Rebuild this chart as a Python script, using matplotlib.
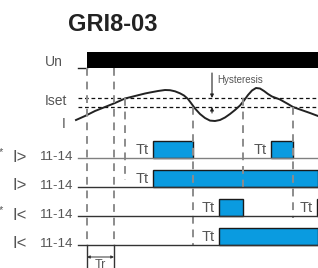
import matplotlib.pyplot as plt
from matplotlib.patches import Rectangle

plt.rcParams['font.family'] = ['Liberation Sans', 'DejaVu Sans']

t_end = 318
un_on = 87
tr_end = 114
iset_hi = 98
iset_lo = 107

curve_t = [76, 85, 95, 105, 115, 125, 135, 145, 150, 158, 165, 170, 175, 180,
           184, 188, 191, 195, 200, 205, 210, 215, 220, 225, 230, 235, 240,
           244, 248, 252, 256, 260, 264, 268, 272, 280, 288, 293, 300, 310, 318]
curve_i = [120, 116, 111, 107, 103, 98.5, 96, 93.5, 92.5, 91, 90, 90.2, 91.3,
           93.3, 95.5, 99, 103, 108.5, 114, 118, 120.6, 121, 120, 117.5, 114,
           110, 105.5, 100.5, 95, 90.5, 88, 88.5, 91, 94, 96.5, 99.5, 104, 107,
           109.5, 113, 116]

# (time, top, bottom) of the vertical event markers
events_t = [87, 114, 125, 193, 243, 293]
events_top = [68, 68, 98, 107, 98, 107]
events_bot = [245, 245, 180, 245, 192, 218]

row_labels = ['I>', 'I>', 'I<', 'I<']
row_contacts = ['11-14'] * 4
row_base = [158, 187, 216, 245]
pulses = [[(153, 193), (271, 293)],
          [(153, 318)],
          [(219, 243), (317, 319)],
          [(219, 318)]]

fig = plt.figure(figsize=(3.18, 2.68), dpi=100)
ax = fig.add_axes([0, 0, 1, 1])
ax.set_xlim(0, 318)
ax.set_ylim(268, 0)
ax.axis('off')

grey = '#555555'
dash_grey = '#8c8c8c'
blue = '#0a9be0'

ax.text(113, 24.5, 'GRI8-03', fontsize=17, fontweight='bold', color='#222222',
        ha='center', va='center')

# supply Un
ax.plot([78, un_on], [68, 68], color='#222222', lw=1)
ax.add_patch(Rectangle((un_on, 52), t_end - un_on, 16, color='black', lw=0))
ax.text(45, 62, 'Un', fontsize=10, color=grey, va='center')

# set levels and current
for lvl in [iset_hi, iset_lo]:
    ax.plot([78, t_end], [lvl, lvl], color='#111111', lw=0.9, dashes=(3, 2.2))
ax.text(45, 101, 'Iset', fontsize=10, color=grey, va='center')
ax.text(62, 124, 'I', fontsize=10, color=grey, va='center')
ax.plot(curve_t, curve_i, color='#222222', lw=1.4, solid_joinstyle='round')

# hysteresis
ax.annotate('', xy=(212, iset_hi), xytext=(212, 73),
            arrowprops=dict(arrowstyle='-|>', color='#222222', lw=0.8,
                            mutation_scale=5, shrinkA=0, shrinkB=0))
ax.annotate('', xy=(212, iset_lo), xytext=(212, 113),
            arrowprops=dict(arrowstyle='-|>', color='#222222', lw=0.8,
                            mutation_scale=5, shrinkA=0, shrinkB=0))
ax.text(217, 80, 'Hysteresis', fontsize=7, color=grey, va='center')

# event markers
for t, top, bot in zip(events_t, events_top, events_bot):
    ax.plot([t, t], [top, bot], color=dash_grey, lw=1.4, dashes=(4, 3))

# output rows
for i, (lab, con, base, row) in enumerate(zip(row_labels, row_contacts, row_base, pulses)):
    line_col = '#808080' if i == 0 else '#333333'
    ax.plot([78, t_end], [base, base], color=line_col, lw=1)
    ax.text(12, base - 1, lab, fontsize=12, color=grey, va='center')
    ax.text(73, base - 1, con, fontsize=9.5, color=grey, va='center', ha='right')
    if i in (0, 2):
        ax.text(3, base - 6, '*', fontsize=8, color=grey, va='center', ha='right')
    for start, stop in row:
        ax.add_patch(Rectangle((start, base - 17), stop - start, 17,
                               facecolor=blue, edgecolor='#1a1a1a', lw=1))
        ax.text(start - 4, base - 8, 'Tt', fontsize=10.5, color=grey,
                ha='right', va='center')

# Tr
for t in [un_on, tr_end]:
    ax.plot([t, t], [245, 268], color='#333333', lw=1)
ax.annotate('', xy=(un_on, 257), xytext=(tr_end, 257),
            arrowprops=dict(arrowstyle='<|-|>', color='#333333', lw=0.7,
                            mutation_scale=4, shrinkA=0, shrinkB=0))
ax.text((un_on + tr_end) / 2, 265, 'Tr', fontsize=9, color=grey,
        ha='center', va='center')

fig.savefig('out.png', dpi=100)
